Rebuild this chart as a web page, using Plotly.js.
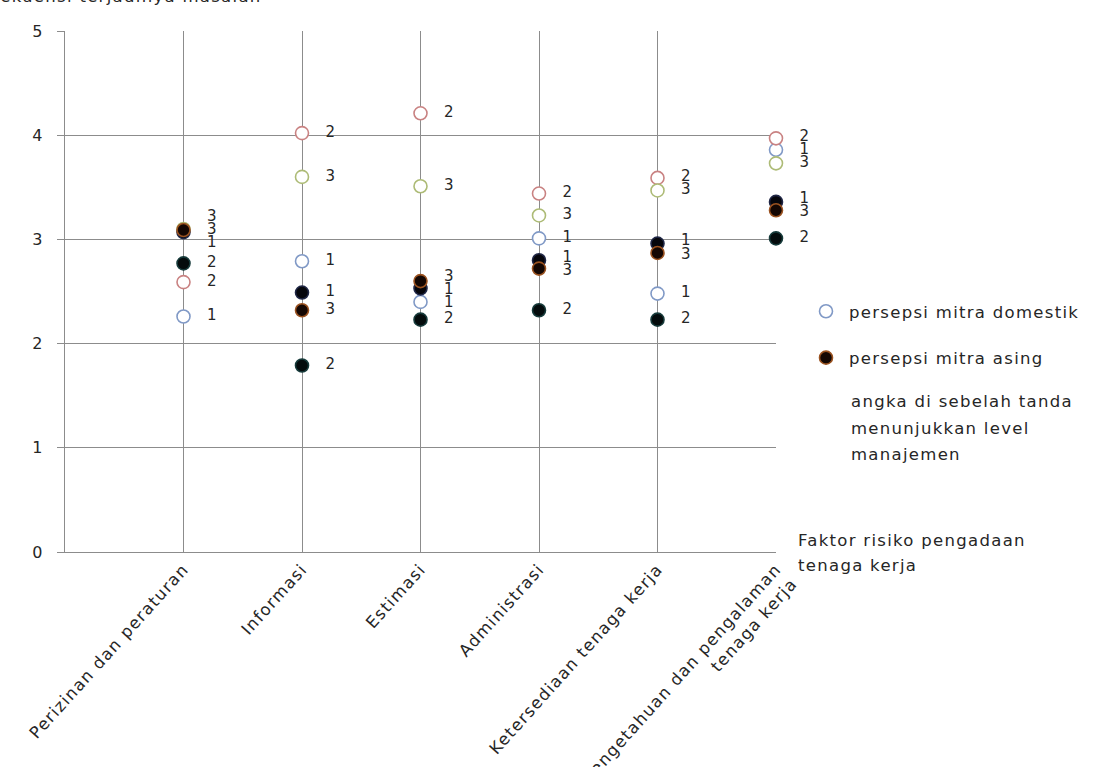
<!DOCTYPE html>
<html>
<head>
<meta charset="utf-8">
<script src="https://cdn.plot.ly/plotly-3.0.1.min.js"></script>
<style>
html,body{margin:0;padding:0;background:#fff;}
svg text{letter-spacing:1.3px;}
</style>
</head>
<body>
<div id="chart" style="width:1098px;height:767px;"></div>
<script>
// ---- data ----
var categories = [
  "Perizinan dan peraturan",
  "Informasi",
  "Estimasi",
  "Administrasi",
  "Ketersediaan tenaga kerja",
  "Pengetahuan dan pengalaman<br>tenaga kerja"
];
var domestikLevel1 = [2.26, 2.79, 2.40, 3.01, 2.48, 3.86];
var domestikLevel2 = [2.59, 4.02, 4.21, 3.44, 3.59, 3.97];
var domestikLevel3 = [3.10, 3.60, 3.51, 3.23, 3.47, 3.73];
var asingLevel1    = [3.07, 2.49, 2.53, 2.80, 2.96, 3.36];
var asingLevel2    = [2.77, 1.79, 2.23, 2.32, 2.23, 3.01];
var asingLevel3    = [3.09, 2.32, 2.60, 2.72, 2.87, 3.28];
var yTickVals = [0, 1, 2, 3, 4, 5];

var FONT = "DejaVu Sans";
var FS = 16.5;
var TXT = "#262626";
var GRID = "#8c8c8c";

// plot-area pixel helpers (for annotation / legend placement only)
var PL = 65, PR = 776, PT = 31, PB = 552;
function px2x(px){ return (px - PL) / (PR - PL); }
function py2y(py){ return (PB - py) / (PB - PT); }

var series = [
  {y: domestikLevel1, level: "1", name: "persepsi mitra domestik", fill: "#ffffff", line: "#8099c6", legend: true, grp: "a"},
  {y: domestikLevel2, level: "2", name: "domestik 2", fill: "#ffffff", line: "#c98282", legend: false, grp: "a"},
  {y: domestikLevel3, level: "3", name: "domestik 3", fill: "#ffffff", line: "#adbb76", legend: false, grp: "a"},
  {y: asingLevel1, level: "1", name: "asing 1", fill: "#05060c", line: "#1f2645", legend: false, grp: "b"},
  {y: asingLevel2, level: "2", name: "asing 2", fill: "#040b0c", line: "#163a3a", legend: false, grp: "b"},
  {y: asingLevel3, level: "3", name: "persepsi mitra asing", fill: "#140703", line: "#9a5220", legend: true, grp: "b"}
];

// spread data labels of one category so they do not overlap (min gap in data units)
var MIN_GAP = 0.125;
var labelY = series.map(function(s){ return s.y.slice(); });
categories.forEach(function(c, ci){
  var items = series.map(function(s, si){ return {si: si, y: s.y[ci]}; });
  items.sort(function(a, b){ return b.y - a.y; });
  var clusters = items.map(function(it){ return {members: [it], mean: it.y}; });
  function top(cl){ return cl.mean + (cl.members.length - 1) * MIN_GAP / 2; }
  function bot(cl){ return cl.mean - (cl.members.length - 1) * MIN_GAP / 2; }
  var changed = true;
  while (changed) {
    changed = false;
    for (var k = 0; k < clusters.length - 1; k++) {
      if (bot(clusters[k]) - top(clusters[k + 1]) < MIN_GAP - 1e-9) {
        var m = clusters[k].members.concat(clusters[k + 1].members);
        var mean = m.reduce(function(a, b){ return a + b.y; }, 0) / m.length;
        clusters.splice(k, 2, {members: m, mean: mean});
        changed = true;
        break;
      }
    }
  }
  clusters.forEach(function(cl){
    var t = top(cl);
    cl.members.forEach(function(it, j){ labelY[it.si][ci] = t - j * MIN_GAP; });
  });
});

var traces = [];
series.forEach(function(s){
  traces.push({
    type: "scatter", mode: "markers",
    x: categories, y: s.y,
    name: s.name, showlegend: s.legend, legendgroup: s.grp,
    cliponaxis: false,
    marker: {symbol: "circle", size: 13, color: s.fill, line: {color: s.line, width: 1.6}},
    hoverinfo: "x+y"
  });
});
series.forEach(function(s, si){
  traces.push({
    type: "scatter", mode: "markers+text",
    x: categories, y: labelY[si],
    text: s.y.map(function(){ return s.level; }),
    textposition: "middle right",
    cliponaxis: false,
    textfont: {family: FONT, size: 15, color: TXT},
    marker: {size: 36, color: "rgba(0,0,0,0)"},
    showlegend: false, hoverinfo: "skip"
  });
});

function note(text, px, py){
  return {text: text, xref: "paper", yref: "paper", x: px2x(px), y: py2y(py),
    xanchor: "left", yanchor: "middle", align: "left", showarrow: false, borderpad: 0,
    font: {family: FONT, size: FS, color: TXT}};
}

var layout = {
  width: 1098, height: 767,
  margin: {l: PL, r: 1098 - PR, t: PT, b: 767 - PB, pad: 0},
  paper_bgcolor: "#ffffff", plot_bgcolor: "#ffffff",
  font: {family: FONT, size: FS, color: TXT},
  showlegend: true,
  legend: {
    x: px2x(803), y: py2y(294), xanchor: "left", yanchor: "top",
    traceorder: "grouped", tracegroupgap: 22,
    font: {family: FONT, size: FS, color: TXT},
    bgcolor: "rgba(0,0,0,0)", itemwidth: 36
  },
  xaxis: {
    type: "category", categoryarray: categories, categoryorder: "array",
    range: [-1, 5],
    showgrid: true, gridcolor: GRID, gridwidth: 1,
    showline: true, linecolor: GRID, linewidth: 1,
    zeroline: false, ticks: "", tickangle: -48,
    tickfont: {family: FONT, size: FS, color: TXT},
    fixedrange: true
  },
  yaxis: {
    range: [0, 5], tickvals: yTickVals,
    showgrid: true, gridcolor: GRID, gridwidth: 1,
    showline: true, linecolor: GRID, linewidth: 1,
    zeroline: false, ticks: "outside", ticklen: 7, tickcolor: GRID,
    ticklabelstandoff: 10,
    tickfont: {family: FONT, size: 16, color: TXT},
    fixedrange: true
  },
  annotations: [
    {text: "Frekuensi terjadinya masalah", xref: "paper", yref: "paper",
     x: px2x(264), y: py2y(-3), xanchor: "right", yanchor: "middle", showarrow: false,
     font: {family: FONT, size: FS, color: TXT}},
    note("angka di sebelah tanda", 850, 401),
    note("menunjukkan level", 850, 428),
    note("manajemen", 850, 455),
    note("Faktor risiko pengadaan", 797, 540),
    note("tenaga kerja", 797, 565)
  ]
};

Plotly.newPlot("chart", traces, layout, {displayModeBar: false, staticPlot: true});
</script>
</body>
</html>
